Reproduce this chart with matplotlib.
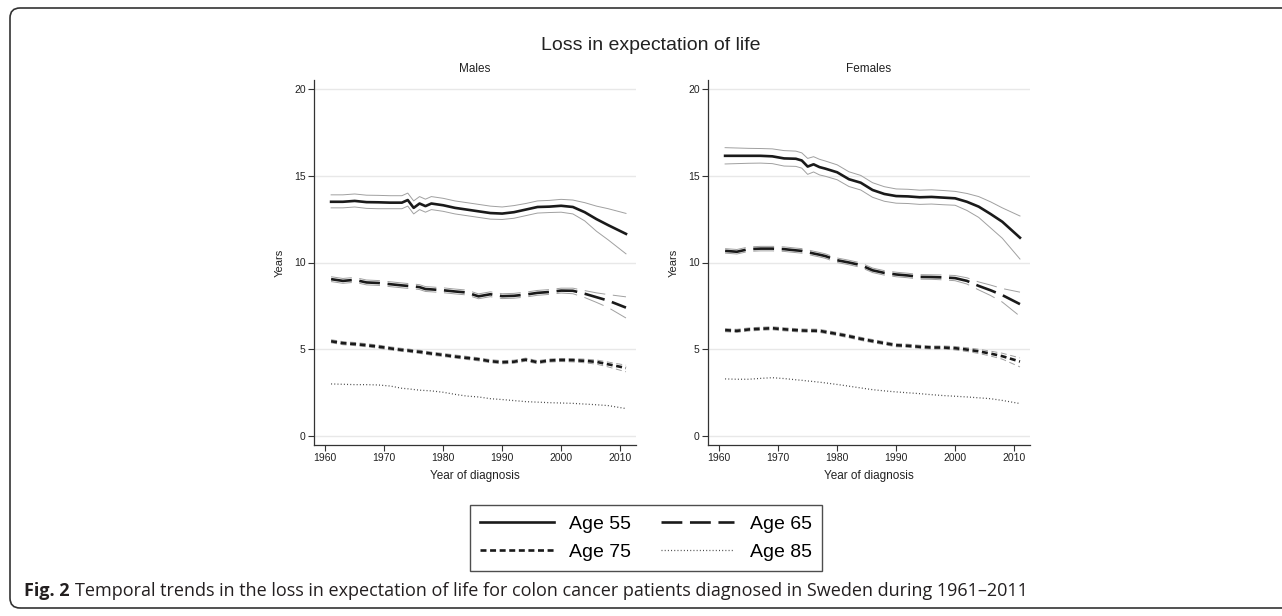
import matplotlib.pyplot as plt
from matplotlib.patches import FancyBboxPatch
from matplotlib.lines import Line2D

plt.rcParams['font.family'] = ['Liberation Sans', 'DejaVu Sans']
plt.rcParams['lines.scale_dashes'] = False

years = [1961, 1963, 1965, 1967, 1969, 1971, 1973, 1974, 1975, 1976, 1977, 1978, 1980, 1982,
         1984, 1986, 1988, 1990, 1992, 1994, 1996, 1998, 2000, 2002, 2004, 2006, 2008, 2011]

# Males
m55 = [13.5, 13.5, 13.55, 13.48, 13.47, 13.45, 13.45, 13.6, 13.15, 13.4, 13.25, 13.4, 13.3, 13.15,
       13.05, 12.95, 12.85, 12.82, 12.9, 13.05, 13.2, 13.22, 13.27, 13.2, 12.9, 12.5, 12.15, 11.65]
m55_hi = [13.9, 13.9, 13.95, 13.88, 13.87, 13.85, 13.85, 14.0, 13.55, 13.8, 13.65, 13.8, 13.7, 13.55,
          13.45, 13.35, 13.25, 13.2, 13.28, 13.4, 13.55, 13.58, 13.64, 13.6, 13.45, 13.25, 13.1, 12.83]
m55_lo = [13.15, 13.15, 13.2, 13.12, 13.1, 13.1, 13.1, 13.25, 12.8, 13.05, 12.9, 13.05, 12.95, 12.8,
          12.7, 12.6, 12.5, 12.48, 12.55, 12.7, 12.85, 12.88, 12.9, 12.8, 12.4, 11.8, 11.3, 10.5]
m65 = [9.04, 8.94, 9.0, 8.85, 8.82, 8.75, 8.68, 8.65, 8.62, 8.58, 8.47, 8.45, 8.4, 8.33,
       8.27, 8.05, 8.17, 8.06, 8.08, 8.15, 8.25, 8.3, 8.38, 8.37, 8.2, 8.0, 7.8, 7.4]
m65_hi = [9.18, 9.08, 9.14, 8.99, 8.96, 8.89, 8.82, 8.79, 8.76, 8.72, 8.61, 8.59, 8.54, 8.47,
          8.41, 8.19, 8.31, 8.2, 8.22, 8.29, 8.39, 8.44, 8.52, 8.52, 8.38, 8.25, 8.15, 8.02]
m65_lo = [8.9, 8.8, 8.86, 8.71, 8.68, 8.61, 8.54, 8.51, 8.48, 8.44, 8.33, 8.31, 8.26, 8.19,
          8.13, 7.91, 8.03, 7.92, 7.94, 8.01, 8.11, 8.16, 8.24, 8.2, 7.98, 7.7, 7.4, 6.8]
m75 = [5.46, 5.35, 5.3, 5.23, 5.15, 5.05, 4.96, 4.93, 4.88, 4.85, 4.8, 4.75, 4.67, 4.58,
       4.5, 4.42, 4.31, 4.25, 4.28, 4.4, 4.25, 4.35, 4.38, 4.37, 4.33, 4.27, 4.13, 3.92]
m75_hi = [5.55, 5.44, 5.39, 5.32, 5.24, 5.14, 5.05, 5.02, 4.97, 4.94, 4.89, 4.84, 4.76, 4.67,
          4.59, 4.51, 4.4, 4.34, 4.37, 4.49, 4.34, 4.44, 4.47, 4.46, 4.43, 4.38, 4.26, 4.08]
m75_lo = [5.37, 5.26, 5.21, 5.14, 5.06, 4.96, 4.87, 4.84, 4.79, 4.76, 4.71, 4.66, 4.58, 4.49,
          4.41, 4.33, 4.22, 4.16, 4.19, 4.31, 4.16, 4.26, 4.29, 4.27, 4.22, 4.14, 3.98, 3.7]
m85 = [3.0, 2.98, 2.96, 2.96, 2.94, 2.88, 2.75, 2.72, 2.68, 2.64, 2.62, 2.6, 2.52, 2.4,
       2.3, 2.25, 2.15, 2.1, 2.04, 1.98, 1.95, 1.92, 1.9, 1.88, 1.84, 1.8, 1.75, 1.58]

# Females
f55 = [16.15, 16.15, 16.15, 16.15, 16.12, 16.0, 15.98, 15.88, 15.53, 15.66, 15.5, 15.41, 15.2, 14.8,
       14.6, 14.18, 13.95, 13.83, 13.81, 13.76, 13.78, 13.74, 13.7, 13.5, 13.22, 12.8, 12.35, 11.43]
f55_hi = [16.62, 16.6, 16.58, 16.57, 16.55, 16.45, 16.42, 16.32, 16.0, 16.1, 15.95, 15.85, 15.63, 15.23,
          15.02, 14.6, 14.37, 14.24, 14.22, 14.17, 14.19, 14.15, 14.1, 13.98, 13.8, 13.5, 13.15, 12.68]
f55_lo = [15.68, 15.7, 15.72, 15.73, 15.7, 15.56, 15.54, 15.44, 15.08, 15.22, 15.05, 14.97, 14.77, 14.38,
          14.18, 13.76, 13.53, 13.42, 13.4, 13.35, 13.37, 13.33, 13.3, 13.0, 12.6, 12.0, 11.4, 10.2]
f65 = [10.67, 10.62, 10.77, 10.8, 10.8, 10.77, 10.7, 10.67, 10.6, 10.52, 10.45, 10.37, 10.13, 10.0,
       9.85, 9.55, 9.4, 9.31, 9.25, 9.17, 9.16, 9.14, 9.1, 8.94, 8.65, 8.4, 8.12, 7.6]
f65_hi = [10.8, 10.75, 10.9, 10.93, 10.93, 10.9, 10.83, 10.8, 10.73, 10.65, 10.58, 10.5, 10.26, 10.13,
          9.98, 9.68, 9.53, 9.44, 9.38, 9.3, 9.29, 9.28, 9.25, 9.12, 8.88, 8.7, 8.5, 8.29]
f65_lo = [10.54, 10.49, 10.64, 10.67, 10.67, 10.64, 10.57, 10.54, 10.47, 10.39, 10.32, 10.24, 10.0, 9.87,
          9.72, 9.42, 9.27, 9.18, 9.12, 9.04, 9.03, 9.0, 8.95, 8.76, 8.42, 8.1, 7.72, 6.9]
f75 = [6.1, 6.06, 6.14, 6.18, 6.21, 6.15, 6.1, 6.08, 6.07, 6.07, 6.06, 6.0, 5.88, 5.75,
       5.6, 5.47, 5.35, 5.23, 5.2, 5.14, 5.1, 5.1, 5.06, 4.98, 4.88, 4.75, 4.6, 4.29]
f75_hi = [6.19, 6.15, 6.23, 6.27, 6.3, 6.24, 6.19, 6.17, 6.16, 6.16, 6.15, 6.09, 5.97, 5.84,
          5.69, 5.56, 5.44, 5.32, 5.29, 5.23, 5.19, 5.19, 5.16, 5.09, 5.0, 4.89, 4.77, 4.5]
f75_lo = [6.01, 5.97, 6.05, 6.09, 6.12, 6.06, 6.01, 5.99, 5.98, 5.98, 5.97, 5.91, 5.79, 5.66,
          5.51, 5.38, 5.26, 5.14, 5.11, 5.05, 5.01, 5.01, 4.96, 4.87, 4.76, 4.61, 4.43, 3.98]
f85 = [3.29, 3.27, 3.27, 3.32, 3.36, 3.31, 3.24, 3.21, 3.17, 3.14, 3.1, 3.06, 2.97, 2.87,
       2.77, 2.67, 2.6, 2.54, 2.49, 2.44, 2.38, 2.33, 2.29, 2.25, 2.2, 2.15, 2.05, 1.87]

ages = ["Age 55", "Age 65", "Age 75", "Age 85"]
panels = {
    "Males": [(m55, m55_lo, m55_hi), (m65, m65_lo, m65_hi), (m75, m75_lo, m75_hi), (m85, None, None)],
    "Females": [(f55, f55_lo, f55_hi), (f65, f65_lo, f65_hi), (f75, f75_lo, f75_hi), (f85, None, None)],
}

# linienstile je Altersgruppe
styles = [
    dict(color='#1a1a1a', lw=1.9, ls='-'),
    dict(color='#1a1a1a', lw=1.9, dashes=(15, 5.5)),
    dict(color='#1a1a1a', lw=1.9, dashes=(4.3, 2.6)),
    dict(color='#444444', lw=0.9, dashes=(0.7, 1.6)),
]

W, H = 1282, 616
fig = plt.figure(figsize=(W / 100, H / 100), dpi=100)

def px(x, y):
    return x / W, 1 - y / H

ax_left = {"Males": 314, "Females": 708}
for name, series in panels.items():
    x0 = ax_left[name]
    ax = fig.add_axes([x0 / W, 1 - 445 / H, 322 / W, 365 / H])
    for (val, lo, hi), st in zip(series, styles):
        if lo is not None:
            ci = dict(st)
            ci['lw'] = 0.7
            ci['color'] = '#a0a0a0'
            ax.plot(years, lo, **ci)
            ax.plot(years, hi, **ci)
        ax.plot(years, val, **st)
    ax.set_xlim(1958.1, 2012.7)
    ax.set_ylim(-0.52, 20.52)
    ax.set_xticks(range(1960, 2011, 10))
    ax.set_yticks(range(0, 21, 5))
    ax.grid(axis='y', color='#e8e8e8', lw=1)
    ax.set_axisbelow(True)
    for s in ['top', 'right']:
        ax.spines[s].set_visible(False)
    for s in ['left', 'bottom']:
        ax.spines[s].set_color('#333333')
        ax.spines[s].set_linewidth(0.9)
    ax.tick_params(length=4, width=0.8, color='#333333', labelsize=7.5, labelcolor='#222222', pad=2)
    ax.set_title(name, fontsize=8.5, color='#222222', pad=6)
    ax.set_xlabel("Year of diagnosis", fontsize=8.5, color='#222222', labelpad=5)
    ax.set_ylabel("Years", fontsize=8, color='#222222', labelpad=7)

fig.text(*px(651, 45), "Loss in expectation of life", ha='center', va='center',
         fontsize=14, color='#222222')

# Legende zeilenweise: 55, 65 / 75, 85
order = [0, 2, 1, 3]
handles = [Line2D([], [], **styles[i]) for i in order]
leg = fig.legend(handles, [ages[i] for i in order], ncol=2, loc='center', bbox_to_anchor=px(646, 538),
                 fontsize=14, handlelength=3.8, handletextpad=0.8, columnspacing=1.5,
                 labelspacing=0.56, frameon=True, fancybox=False, borderpad=0.5)
leg.get_frame().set_edgecolor('#222222')
leg.get_frame().set_linewidth(1.0)

# Rahmen mit runden Ecken, rechts offen
frame = FancyBboxPatch((10, 8), 1300, 600, boxstyle="round,pad=0,rounding_size=10",
                       transform=None, fill=False, ec='#333333', lw=1.2, clip_on=False)
fig.patches.append(frame)

cap_family = ['Open Sans', 'DejaVu Sans']
t1 = fig.text(*px(24, 591), "Fig. 2", ha='left', va='center', fontsize=13,
              fontweight='bold', family=cap_family, color='#231f20')
fig.canvas.draw()
bb = t1.get_window_extent()
fig.text(bb.x1 / W + 5 / W, 1 - 591 / H,
         "Temporal trends in the loss in expectation of life for colon cancer patients diagnosed in Sweden during 1961\u20132011",
         ha='left', va='center', fontsize=13, family=cap_family, color='#231f20')

fig.savefig("out.png", dpi=100)
